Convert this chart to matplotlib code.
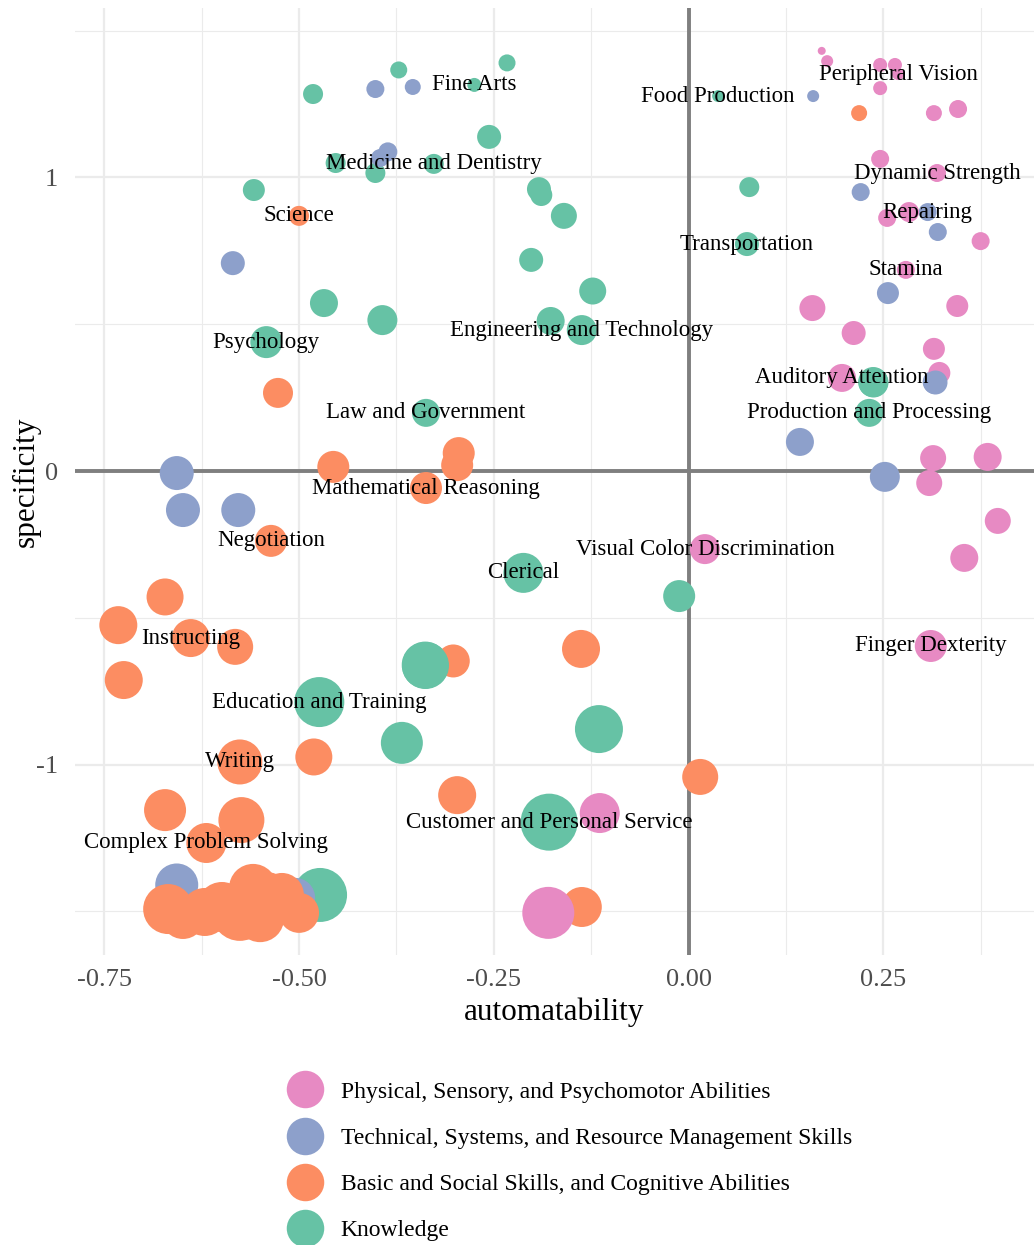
import matplotlib.pyplot as plt
from matplotlib.lines import Line2D

plt.rcParams['font.family'] = ['Liberation Serif', 'DejaVu Serif']

colors = {
    "Physical, Sensory, and Psychomotor Abilities": "#E78AC3",
    "Technical, Systems, and Resource Management Skills": "#8DA0CB",
    "Basic and Social Skills, and Cognitive Abilities": "#FC8D62",
    "Knowledge": "#66C2A5",
}

# Knowledge
know_x = [-0.482, -0.372, -0.275, -0.233, -0.256, -0.453, -0.402, -0.327, -0.558, -0.468,
          -0.393, -0.542, -0.337, -0.192, -0.189, -0.160, -0.202, -0.123, -0.177, -0.137,
          0.038, 0.078, 0.075, 0.232, -0.212, -0.012, -0.115, -0.179, -0.474, -0.368,
          -0.473, -0.338, 0.237]
know_y = [1.284, 1.366, 1.315, 1.390, 1.138, 1.049, 1.015, 1.046, 0.957, 0.572,
          0.514, 0.439, 0.198, 0.960, 0.940, 0.869, 0.719, 0.613, 0.511, 0.480,
          1.277, 0.967, 0.773, 0.198, -0.347, -0.426, -0.879, -1.196, -0.787, -0.926,
          -1.444, -0.661, 0.303]
know_w = [2.0, 1.7, 1.4, 1.7, 2.4, 2.0, 2.0, 2.0, 2.2, 2.8,
          3.0, 3.2, 2.8, 2.4, 2.2, 2.6, 2.4, 2.7, 2.8, 3.0,
          1.2, 2.0, 2.4, 2.8, 4.0, 3.2, 4.8, 5.7, 5.0, 4.2,
          5.4, 4.7, 3.0]
know_lab = ["", "", "Fine Arts", "", "", "", "", "Medicine and Dentistry", "", "",
            "", "Psychology", "Law and Government", "", "", "", "", "", "", "Engineering and Technology",
            "Food Production", "", "Transportation", "Production and Processing", "Clerical", "", "",
            "Customer and Personal Service", "Education and Training", "",
            "", "", ""]

# Technical, Systems, and Resource Management Skills
tech_x = [-0.402, -0.354, -0.396, -0.386, -0.585, -0.657, -0.649, -0.578, 0.160, 0.221,
          0.307, 0.320, 0.256, 0.143, 0.252, -0.657, -0.505, 0.316]
tech_y = [1.301, 1.308, 1.066, 1.087, 0.708, -0.007, -0.133, -0.133, 1.277, 0.950,
          0.882, 0.814, 0.606, 0.099, -0.020, -1.410, -1.454, 0.303]
tech_w = [1.8, 1.6, 1.8, 1.9, 2.4, 3.4, 3.4, 3.4, 1.2, 1.8,
          1.8, 1.8, 2.2, 2.8, 3.0, 4.3, 4.0, 2.4]
tech_lab = ["", "", "", "", "", "", "", "", "", "",
            "Repairing", "", "", "", "", "", "", ""]

# Basic and Social Skills, and Cognitive Abilities
basic_x = [-0.500, -0.527, -0.456, -0.295, -0.297, -0.337, -0.536, 0.219, -0.138, 0.015,
           -0.137, -0.672, -0.732, -0.639, -0.582, -0.725, -0.302, -0.576, -0.481, -0.297,
           -0.672, -0.574, -0.619, -0.668, -0.649, -0.599, -0.621, -0.576, -0.559, -0.542,
           -0.550, -0.522, -0.500]
basic_y = [0.869, 0.266, 0.014, 0.061, 0.020, -0.058, -0.238, 1.219, -0.606, -1.042,
           -1.485, -0.429, -0.525, -0.569, -0.599, -0.712, -0.647, -0.991, -0.974, -1.104,
           -1.155, -1.189, -1.267, -1.492, -1.519, -1.485, -1.502, -1.505, -1.420, -1.451,
           -1.523, -1.444, -1.505]
basic_w = [2.0, 3.0, 3.2, 3.2, 3.2, 3.2, 3.2, 1.6, 3.8, 3.6,
           4.0, 3.7, 3.8, 3.8, 3.6, 3.8, 3.3, 4.5, 3.7, 3.8,
           4.2, 4.6, 4.0, 5.0, 4.4, 5.0, 4.8, 5.6, 4.8, 5.0,
           4.8, 4.4, 4.0]
basic_lab = ["Science", "", "", "", "", "Mathematical Reasoning", "Negotiation", "", "", "",
             "", "", "", "Instructing", "", "", "", "Writing", "", "",
             "", "", "Complex Problem Solving", "", "", "", "", "", "", "",
             "", "", ""]

# Physical, Sensory, and Psychomotor Abilities
phys_x = [0.171, 0.178, 0.246, 0.265, 0.269, 0.246, 0.315, 0.346, 0.246, 0.319,
          0.255, 0.283, 0.375, 0.279, 0.159, 0.345, 0.212, 0.315, 0.197, 0.322,
          0.314, 0.384, 0.309, 0.397, 0.354, 0.021, 0.311, -0.114, -0.180]
phys_y = [1.431, 1.396, 1.383, 1.383, 1.352, 1.304, 1.219, 1.233, 1.063, 1.015,
          0.862, 0.882, 0.783, 0.685, 0.555, 0.562, 0.470, 0.416, 0.317, 0.334,
          0.044, 0.048, -0.041, -0.170, -0.296, -0.266, -0.596, -1.165, -1.505]
phys_w = [0.8, 1.2, 1.4, 1.4, 1.2, 1.4, 1.6, 1.8, 1.8, 1.8,
          1.8, 2.0, 1.8, 1.8, 2.6, 2.2, 2.4, 2.2, 2.8, 2.2,
          2.6, 2.8, 2.6, 2.6, 2.8, 3.0, 3.2, 4.0, 5.2]
phys_lab = ["", "", "", "", "Peripheral Vision", "", "", "", "", "Dynamic Strength",
            "", "", "", "Stamina", "", "", "", "", "Auditory Attention", "",
            "", "", "", "", "", "Visual Color Discrimination", "Finger Dexterity", "", ""]

groups = [
    ("Knowledge", know_x, know_y, know_w, know_lab),
    ("Technical, Systems, and Resource Management Skills", tech_x, tech_y, tech_w, tech_lab),
    ("Basic and Social Skills, and Cognitive Abilities", basic_x, basic_y, basic_w, basic_lab),
    ("Physical, Sensory, and Psychomotor Abilities", phys_x, phys_y, phys_w, phys_lab),
]
# points that sit in front of neighbours from other groups
on_top = {"Knowledge": [31, 32],
          "Technical, Systems, and Resource Management Skills": [17]}


def bubble(w):
    return (w * 7.2) ** 2


fig = plt.figure(figsize=(10.34, 12.45), dpi=100)
ax = fig.add_axes([75 / 1034, 1 - 955 / 1245, 1 - 75 / 1034, 947 / 1245])
ax.set_xlim(-0.7876, 0.4435)
ax.set_ylim(-1.6485, 1.577)

for v in [-0.625, -0.375, -0.125, 0.125, 0.375]:
    ax.axvline(v, color="#EBEBEB", lw=0.8, zorder=0)
for v in [-1.5, -0.5, 0.5, 1.5]:
    ax.axhline(v, color="#EBEBEB", lw=0.8, zorder=0)
for v in [-0.75, -0.5, -0.25, 0.25]:
    ax.axvline(v, color="#EBEBEB", lw=1.6, zorder=0)
for v in [-1, 1]:
    ax.axhline(v, color="#EBEBEB", lw=1.6, zorder=0)
ax.axhline(0, color="#7F7F7F", lw=2.8, zorder=1)
ax.axvline(0, color="#7F7F7F", lw=2.8, zorder=1)

for name, xs, ys, ws, labs in groups:
    ax.scatter(xs, ys, s=[bubble(w) for w in ws], color=colors[name], linewidths=0, zorder=2)
for name, xs, ys, ws, labs in groups:
    for i in on_top.get(name, []):
        ax.scatter([xs[i]], [ys[i]], s=[bubble(ws[i])], color=colors[name], linewidths=0, zorder=3)

for name, xs, ys, ws, labs in groups:
    for x, y, lab in zip(xs, ys, labs):
        if lab:
            ax.text(x, y, lab, ha="center", va="center", fontsize=16.5, color="black", zorder=5)

ax.set_xticks([-0.75, -0.5, -0.25, 0, 0.25])
ax.set_xticklabels(["-0.75", "-0.50", "-0.25", "0.00", "0.25"])
ax.set_yticks([-1, 0, 1])
ax.set_yticklabels(["-1", "0", "1"])
ax.tick_params(length=0, labelsize=19, labelcolor="#4D4D4D")
ax.tick_params(axis="x", pad=10)
ax.tick_params(axis="y", pad=12)
for s in ax.spines.values():
    s.set_visible(False)
ax.set_xlabel("automatability", fontsize=22.5, labelpad=5)
ax.set_ylabel("specificity", fontsize=22.5)
ax.yaxis.set_label_coords(-0.036, 0.5)

legend_order = ["Physical, Sensory, and Psychomotor Abilities",
                "Technical, Systems, and Resource Management Skills",
                "Basic and Social Skills, and Cognitive Abilities",
                "Knowledge"]
handles = [Line2D([], [], marker="o", ls="", markersize=27, markeredgewidth=0,
                  color=colors[n]) for n in legend_order]
fig.legend(handles, legend_order, loc="upper left", bbox_to_anchor=(286 / 1034, 1 - 1081 / 1245),
           frameon=False, fontsize=17, handlelength=1.6, handletextpad=0.72,
           labelspacing=1.05, borderpad=0, borderaxespad=0)

fig.savefig("out.png", dpi=100)
